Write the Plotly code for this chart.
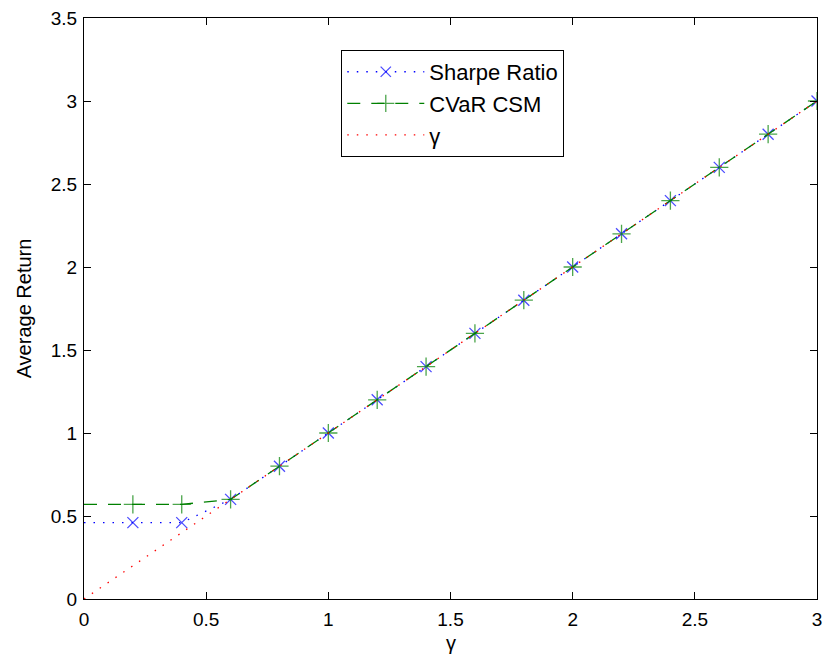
import plotly.graph_objects as go

# Target return levels gamma
gamma = [0.0, 0.2, 0.4, 0.6, 0.8, 1.0, 1.2, 1.4, 1.6, 1.8, 2.0, 2.2, 2.4, 2.6, 2.8, 3.0]

# Average realised return of each strategy
sharpe_ratio = [0.46, 0.46, 0.46, 0.60, 0.80, 1.00, 1.20, 1.40, 1.60, 1.80,
                2.00, 2.20, 2.40, 2.60, 2.80, 3.00]
cvar_csm = [0.57, 0.57, 0.57, 0.60, 0.80, 1.00, 1.20, 1.40, 1.60, 1.80,
            2.00, 2.20, 2.40, 2.60, 2.80, 3.00]
gamma_line = [0.0, 0.2, 0.4, 0.6, 0.8, 1.0, 1.2, 1.4, 1.6, 1.8, 2.0, 2.2,
              2.4, 2.6, 2.8, 3.0]

x_ticks = [0, 0.5, 1, 1.5, 2, 2.5, 3]
y_ticks = [0, 0.5, 1, 1.5, 2, 2.5, 3, 3.5]
x_tick_text = ["0", "0.5", "1", "1.5", "2", "2.5", "3"]
y_tick_text = ["0", "0.5", "1", "1.5", "2", "2.5", "3", "3.5"]

FONT = "Liberation Sans, Arial, Helvetica, sans-serif"
TICK_FS = 19
TITLE_FS = 20
LEGEND_FS = 22

# no marker on the gamma = 0 sample
marker_sizes = [0] + [11] * (len(gamma) - 1)

fig = go.Figure()
fig.add_trace(go.Scatter(
    x=gamma, y=sharpe_ratio, name="Sharpe Ratio", mode="lines+markers",
    line=dict(color="#0000ff", width=1.3, dash="1.5px,8px"),
    marker=dict(symbol="x-thin", size=marker_sizes, color="#0000ff",
                line=dict(color="#0000ff", width=1.3)),
))
fig.add_trace(go.Scatter(
    x=gamma, y=cvar_csm, name="CVaR CSM", mode="lines+markers",
    line=dict(color="#008000", width=1.3, dash="13px,11px"),
    marker=dict(symbol="cross-thin", size=[s + 2 if s else 0 for s in marker_sizes],
                color="#008000", line=dict(color="#008000", width=1.3)),
))
fig.add_trace(go.Scatter(
    x=gamma, y=gamma_line, name="γ", mode="lines",
    line=dict(color="#ff0000", width=1.3, dash="1.5px,8px"),
))

axis_common = dict(
    showline=True, linecolor="black", linewidth=1, mirror="ticks",
    ticks="inside", ticklen=7, tickwidth=1, tickcolor="black",
    showgrid=False, zeroline=False,
    tickfont=dict(family=FONT, size=TICK_FS, color="black"),
)

fig.update_layout(
    width=830, height=661,
    margin=dict(l=84, r=8, t=16, b=62),
    paper_bgcolor="white", plot_bgcolor="white",
    font=dict(family=FONT, size=TICK_FS, color="black"),
    xaxis=dict(range=[0, 3], tickvals=x_ticks, ticktext=x_tick_text,
               ticklabelstandoff=3, **axis_common),
    yaxis=dict(range=[0, 3.5], tickvals=y_ticks, ticktext=y_tick_text,
               ticklabelstandoff=2,
               title=dict(text="Average Return", standoff=13, font=dict(size=TITLE_FS)),
               **axis_common),
    legend=dict(x=0.351, y=0.945, xanchor="left", yanchor="top",
                bgcolor="white", bordercolor="black", borderwidth=1,
                font=dict(family=FONT, size=LEGEND_FS, color="black"),
                itemwidth=77, tracegroupgap=0),
    showlegend=True,
)

# x-axis label placed just under the tick labels
fig.add_annotation(text="γ", xref="paper", yref="paper", x=0.5, y=-0.076,
                   xanchor="center", yanchor="middle", showarrow=False,
                   font=dict(family=FONT, size=TITLE_FS, color="black"))

fig.write_html("out.html")
